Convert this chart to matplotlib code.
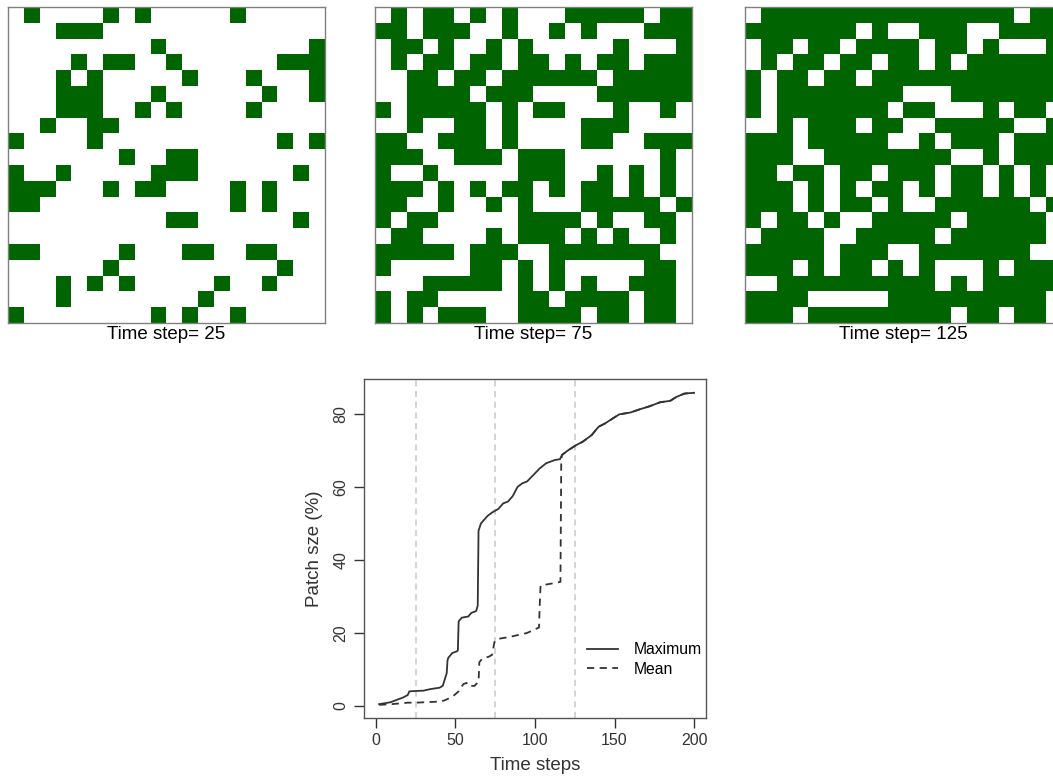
import numpy as np
import matplotlib
matplotlib.use("Agg")
import matplotlib.pyplot as plt
from matplotlib.colors import ListedColormap

plt.rcParams['font.family'] = ['Liberation Sans', 'DejaVu Sans']

########## GRID SNAPSHOTS (1 = occupied cell) ##########

grid_25 = [
    "01000010100000100000",
    "00011100000000000000",
    "00000000010000000001",
    "00001011001000000111",
    "00010100000100010001",
    "00011100010000001001",
    "00011100101000010000",
    "00100110000000000000",
    "10000100000000000101",
    "00000001001100000000",
    "10010000011100000010",
    "11100010110000101000",
    "11000000000000101000",
    "00000000001100000010",
    "00000000000000000000",
    "11000001000110011000",
    "00000010000000000100",
    "00010101000001001000",
    "00010000000010000000",
    "10000000010100100000",
]

grid_75 = [
    "01011010100011111011",
    "11011100100101000111",
    "01101001010000010001",
    "01011011011010110111",
    "00110110111111011111",
    "00111101110000111111",
    "10111110101100010010",
    "00100110100001110000",
    "11001110100001100111",
    "11100111011100000010",
    "10010000011100101010",
    "11101010110101101010",
    "11001001010001111101",
    "10110000011110100110",
    "01100001011101010010",
    "11111011100111111100",
    "10000011010100000110",
    "00011111010101001110",
    "10110000011011110110",
    "10101110011110110110",
]

grid_125 = [
    "01111111111111111011",
    "11111110100111001111",
    "01101101111011010001",
    "01011011011010111111",
    "10110110111111111111",
    "10111111110001111111",
    "10111111101100010110",
    "00101110110011111001",
    "11101111100101110111",
    "11100111111110010111",
    "11011011011101101010",
    "11101010110101101010",
    "11101011010011111101",
    "10110100111110111110",
    "01111001111101111110",
    "11111011100111111100",
    "11101011010100010111",
    "00111111111101011111",
    "11110000011111111110",
    "11101111111110110110",
]

snap_steps = [25, 75, 125]
snap_grids = [grid_25, grid_75, grid_125]

########## PATCH SIZE SERIES ##########

max_x = [2, 9, 17, 20, 21, 30, 34, 40, 42, 44.5, 45, 45.5, 48, 51, 51.5, 52, 54, 58, 60,
         63, 64, 64.5, 66, 68, 70, 73, 75, 77, 80, 83, 86, 89, 92, 95, 99, 103, 107,
         112.6, 115.7, 117, 121, 126, 130, 135.6, 140, 144, 149, 153, 160, 166, 172,
         178.6, 185, 189, 194, 200]
max_y = [0.5, 1.0, 2.3, 3.0, 4.0, 4.2, 4.6, 5.0, 5.5, 9.0, 12.5, 13.2, 14.5, 15.0, 15.2,
         23.2, 24.2, 24.5, 25.5, 26.0, 27.5, 48.0, 50.0, 51.0, 52.0, 53.0, 53.5, 54.0,
         55.5, 56.0, 57.5, 60.0, 61.0, 61.5, 63.3, 65.1, 66.5, 67.4, 67.6, 68.8, 70.1,
         71.5, 72.4, 74.2, 76.5, 77.4, 78.8, 79.9, 80.4, 81.3, 82.1, 83.2, 83.6, 84.7,
         85.6, 85.8]

mean_x = [2, 10, 20, 25, 40, 43, 48, 52, 55, 57, 58, 62, 63, 64.5, 65, 67, 71, 73, 74.5,
          76, 85, 95, 100, 102.5, 103, 103.5, 110, 116, 116.5]
mean_y = [0.3, 0.5, 0.9, 0.9, 1.2, 1.5, 2.5, 4.0, 6.0, 6.3, 5.5, 5.5, 6.0, 6.5, 12.0,
          13.0, 13.5, 14.0, 17.5, 18.3, 19.0, 20.0, 21.0, 21.5, 28.0, 33.0, 33.5, 34.0,
          67.5]

snap_lines = [25, 75, 125]

########## FIGURE ##########

fig = plt.figure(figsize=(10.53, 7.80), dpi=100)
cmap = ListedColormap(["white", "#006400"])

# three snapshots across the top, the last one runs off the right edge
panel_left = [8, 375, 745]
for left, step, rows in zip(panel_left, snap_steps, snap_grids):
    ax = fig.add_axes([left / 1053, 1 - 323 / 780, 317 / 1053, 316 / 780])
    arr = np.array([[int(ch) for ch in r] for r in rows])
    ax.imshow(arr, cmap=cmap, vmin=0, vmax=1, interpolation="nearest", aspect="auto")
    ax.set_xticks([])
    ax.set_yticks([])
    for s in ax.spines.values():
        s.set_color("#808080")
        s.set_linewidth(1.0)
    ax.set_xlabel("Time step= {0}".format(step), fontsize=13.5, labelpad=2)

# line chart of patch sizes
ax = fig.add_axes([364 / 1053, 1 - 718 / 780, 342 / 1053, 338.7 / 780])
for xv in snap_lines:
    ax.axvline(xv, color="#c8c8c8", linestyle=(0, (4, 3)), linewidth=1.1, zorder=1)

# mean joins the maximum once one patch spans the grid
mx = np.array(max_x)
tail = mx > mean_x[-1]
mean_full_x = list(mean_x) + list(mx[tail])
mean_full_y = list(mean_y) + list(np.array(max_y)[tail])

ax.plot(max_x, max_y, color="#333333", linewidth=1.3, label="Maximum", zorder=3)
ax.plot(mean_full_x, mean_full_y, color="#333333", linewidth=1.3,
        linestyle=(0, (4, 3)), label="Mean", zorder=2)

ax.set_xlim(-7.5, 207.5)
ax.set_ylim(-3.3, 89.5)
ax.set_xticks([0, 50, 100, 150, 200])
ax.set_yticks([0, 20, 40, 60, 80])
ax.tick_params(direction="out", length=7, width=1, labelsize=11.5, colors="#333333", pad=4)
for lab in ax.get_yticklabels():
    lab.set_rotation(90)
    lab.set_va("center")
for s in ax.spines.values():
    s.set_color("#555555")
    s.set_linewidth(1.0)
ax.set_xlabel("Time steps", fontsize=13.5, color="#333333", labelpad=6)
ax.set_ylabel("Patch sze (%)", fontsize=13.5, color="#333333", labelpad=8)

ax.legend(loc="lower right", bbox_to_anchor=(1.03, 0.08), frameon=False, fontsize=11.3,
          handlelength=2.0, labelspacing=0.3, handletextpad=1.0)

fig.savefig("out.png", dpi=100)
